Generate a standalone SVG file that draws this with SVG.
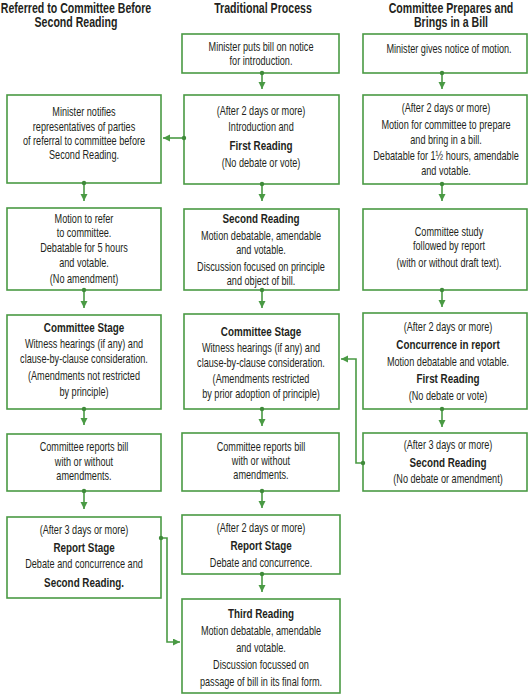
<svg xmlns="http://www.w3.org/2000/svg" width="531" height="696" viewBox="0 0 531 696">
<defs>
<marker id="ah" markerUnits="userSpaceOnUse" markerWidth="8" markerHeight="8" refX="7" refY="3.5" orient="auto">
<path d="M0,0 L7,3.5 L0,7 z" fill="#4a9a44"/>
</marker>
<marker id="dot" markerUnits="userSpaceOnUse" markerWidth="6" markerHeight="6" refX="3" refY="3" orient="auto">
<circle cx="3" cy="3" r="2.2" fill="#3f8a3a"/>
</marker>
<style>
.box{fill:#fff;stroke:#4a9a44;stroke-width:1.6}
.t{font-family:"Liberation Sans",Arial,sans-serif;font-size:12.5px;fill:#231f20;text-anchor:middle}
.b{font-weight:bold;font-size:13.5px}
.h{font-family:"Liberation Sans",Arial,sans-serif;font-size:14.5px;font-weight:bold;fill:#231f20;text-anchor:middle}
.c{fill:none;stroke:#4a9a44;stroke-width:1.6;marker-start:url(#dot);marker-end:url(#ah)}
</style>
</defs>
<rect width="531" height="696" fill="#fff"/>

<g id="headers">
<text class="h" transform="translate(76 0) scale(0.73 1)"><tspan x="0" y="12.5">Referred to Committee Before</tspan><tspan x="0" y="27.5">Second Reading</tspan></text>
<text class="h" transform="translate(263 0) scale(0.73 1)"><tspan x="0" y="12.5">Traditional Process</tspan></text>
<text class="h" transform="translate(451 0) scale(0.73 1)"><tspan x="0" y="12.5">Committee Prepares and</tspan><tspan x="0" y="27.5">Brings in a Bill</tspan></text>
</g>

<g id="L1"><rect class="box" x="7" y="95" width="154" height="88"/>
<text class="t" transform="translate(84 0) scale(0.73 1)"><tspan x="0" y="116">Minister notifies</tspan><tspan x="0" y="131">representatives of parties</tspan><tspan x="0" y="145">of referral to committee before</tspan><tspan x="0" y="159">Second Reading.</tspan></text></g>

<g id="L2"><rect class="box" x="7" y="208" width="154" height="82"/>
<text class="t" transform="translate(84 0) scale(0.73 1)"><tspan x="0" y="223">Motion to refer</tspan><tspan x="0" y="237">to committee.</tspan><tspan x="0" y="252">Debatable for 5 hours</tspan><tspan x="0" y="267">and votable.</tspan><tspan x="0" y="283">(No amendment)</tspan></text></g>

<g id="L3"><rect class="box" x="7" y="315" width="154" height="94"/>
<text class="t" transform="translate(84 0) scale(0.73 1)"><tspan x="0" y="332" class="b">Committee Stage</tspan><tspan x="0" y="348">Witness hearings (if any) and</tspan><tspan x="0" y="363">clause-by-clause consideration.</tspan><tspan x="0" y="380">(Amendments not restricted</tspan><tspan x="0" y="396">by principle)</tspan></text></g>

<g id="L4"><rect class="box" x="7" y="434" width="154" height="57"/>
<text class="t" transform="translate(84 0) scale(0.73 1)"><tspan x="0" y="451">Committee reports bill</tspan><tspan x="0" y="466">with or without</tspan><tspan x="0" y="480">amendments.</tspan></text></g>

<g id="L5"><rect class="box" x="7" y="517" width="154" height="81"/>
<text class="t" transform="translate(84 0) scale(0.73 1)"><tspan x="0" y="534">(After 3 days or more)</tspan><tspan x="0" y="552" class="b">Report Stage</tspan><tspan x="0" y="568">Debate and concurrence and</tspan><tspan x="0" y="587" class="b">Second Reading.</tspan></text></g>

<g id="M1"><rect class="box" x="182" y="34" width="157" height="39"/>
<text class="t" transform="translate(261 0) scale(0.73 1)"><tspan x="0" y="51">Minister puts bill on notice</tspan><tspan x="0" y="65">for introduction.</tspan></text></g>

<g id="M2"><rect class="box" x="184" y="95" width="155" height="89"/>
<text class="t" transform="translate(261 0) scale(0.73 1)"><tspan x="0" y="115">(After 2 days or more)</tspan><tspan x="0" y="131">Introduction and</tspan><tspan x="0" y="150" class="b">First Reading</tspan><tspan x="0" y="167">(No debate or vote)</tspan></text></g>

<g id="M3"><rect class="box" x="184" y="209" width="155" height="81"/>
<text class="t" transform="translate(261 0) scale(0.73 1)"><tspan x="0" y="223" class="b">Second Reading</tspan><tspan x="0" y="240">Motion debatable, amendable</tspan><tspan x="0" y="254">and votable.</tspan><tspan x="0" y="271">Discussion focused on principle</tspan><tspan x="0" y="285">and object of bill.</tspan></text></g>

<g id="M4"><rect class="box" x="184" y="314" width="155" height="95"/>
<text class="t" transform="translate(261 0) scale(0.73 1)"><tspan x="0" y="336" class="b">Committee Stage</tspan><tspan x="0" y="352">Witness hearings (if any) and</tspan><tspan x="0" y="367">clause-by-clause consideration.</tspan><tspan x="0" y="383">(Amendments restricted</tspan><tspan x="0" y="398">by prior adoption of principle)</tspan></text></g>

<g id="M5"><rect class="box" x="182" y="433" width="157" height="58"/>
<text class="t" transform="translate(261 0) scale(0.73 1)"><tspan x="0" y="451">Committee reports bill</tspan><tspan x="0" y="465">with or without</tspan><tspan x="0" y="479">amendments.</tspan></text></g>

<g id="M6"><rect class="box" x="182" y="515" width="158" height="59"/>
<text class="t" transform="translate(261 0) scale(0.73 1)"><tspan x="0" y="532">(After 2 days or more)</tspan><tspan x="0" y="550" class="b">Report Stage</tspan><tspan x="0" y="567">Debate and concurrence.</tspan></text></g>

<g id="M7"><rect class="box" x="182" y="599" width="158" height="94"/>
<text class="t" transform="translate(261 0) scale(0.73 1)"><tspan x="0" y="618" class="b">Third Reading</tspan><tspan x="0" y="635">Motion debatable, amendable</tspan><tspan x="0" y="652">and votable.</tspan><tspan x="0" y="669">Discussion focussed on</tspan><tspan x="0" y="686">passage of bill in its final form.</tspan></text></g>

<g id="R1"><rect class="box" x="363" y="34" width="164" height="39"/>
<text class="t" transform="translate(449 0) scale(0.73 1)"><tspan x="0" y="53">Minister gives notice of motion.</tspan></text></g>

<g id="R2"><rect class="box" x="363" y="95" width="164" height="89"/>
<text class="t" transform="translate(446 0) scale(0.73 1)"><tspan x="0" y="112">(After 2 days or more)</tspan><tspan x="0" y="129">Motion for committee to prepare</tspan><tspan x="0" y="144">and bring in a bill.</tspan><tspan x="0" y="160">Debatable for 1½ hours, amendable</tspan><tspan x="0" y="175">and votable.</tspan></text></g>

<g id="R3"><rect class="box" x="363" y="209" width="164" height="81"/>
<text class="t" transform="translate(449 0) scale(0.73 1)"><tspan x="0" y="236">Committee study</tspan><tspan x="0" y="250">followed by report</tspan><tspan x="0" y="267">(with or without draft text).</tspan></text></g>

<g id="R4"><rect class="box" x="363" y="313" width="164" height="96"/>
<text class="t" transform="translate(448 0) scale(0.73 1)"><tspan x="0" y="331">(After 2 days or more)</tspan><tspan x="0" y="349" class="b">Concurrence in report</tspan><tspan x="0" y="366">Motion debatable and votable.</tspan><tspan x="0" y="383" class="b">First Reading</tspan><tspan x="0" y="400">(No debate or vote)</tspan></text></g>

<g id="R5"><rect class="box" x="363" y="433" width="164" height="58"/>
<text class="t" transform="translate(448 0) scale(0.73 1)"><tspan x="0" y="449">(After 3 days or more)</tspan><tspan x="0" y="467" class="b">Second Reading</tspan><tspan x="0" y="483">(No debate or amendment)</tspan></text></g>

<g id="connectors">
<path class="c" d="M84,183 V201"/>
<path class="c" d="M84,290 V308"/>
<path class="c" d="M84,409 V425"/>
<path class="c" d="M84,491 V509"/>
<path class="c" d="M262,73 V89"/>
<path class="c" d="M262,184 V201"/>
<path class="c" d="M262,290 V308"/>
<path class="c" d="M262,409 V426"/>
<path class="c" d="M262,491 V508"/>
<path class="c" d="M262,574 V592"/>
<path class="c" d="M442,73 V89"/>
<path class="c" d="M442,184 V201"/>
<path class="c" d="M442,290 V307"/>
<path class="c" d="M442,409 V427"/>
<path class="c" d="M184,138 H163"/>
<path class="c" d="M363,463 H356 V359 H341"/>
<path class="c" d="M161,538 H167 V642 H180"/>
</g>
</svg>
